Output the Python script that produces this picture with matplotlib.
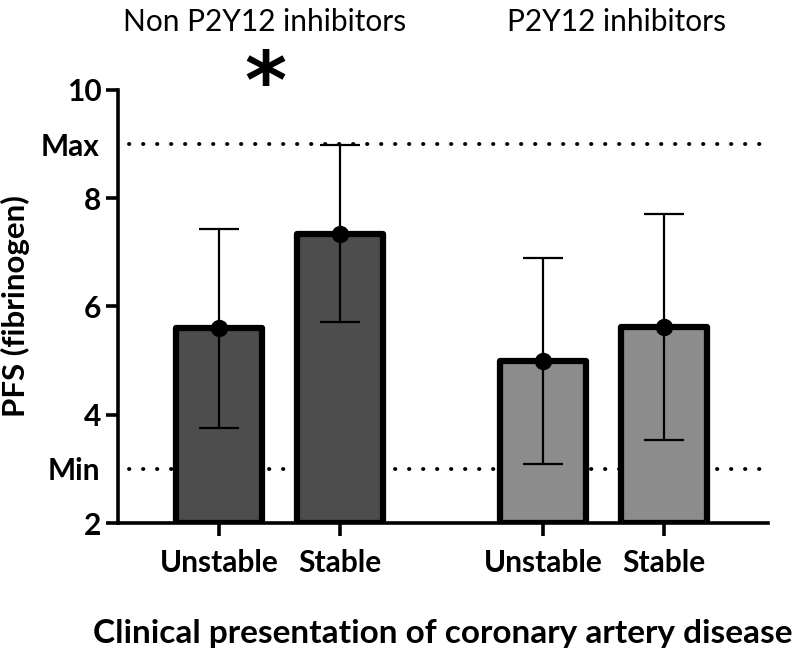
import numpy as np
import matplotlib.pyplot as plt

CATEGORIES = ["Unstable", "Stable", "Unstable", "Stable"]
GROUPS = ["Non P2Y12 inhibitors", "P2Y12 inhibitors"]
MEANS = [5.6, 7.34, 5.0, 5.62]
ERR_LOW = [3.76, 5.72, 3.09, 3.54]
ERR_HIGH = [7.43, 8.98, 6.9, 7.7]
COLORS = ["#4d4d4d", "#4d4d4d", "#8c8c8c", "#8c8c8c"]
POSITIONS = [0, 1, 2.68, 3.68]
MAX_LINE, MIN_LINE = 9, 3

plt.rcParams['font.family'] = ['Lato', 'DejaVu Sans']

fig = plt.figure(figsize=(8, 6.51), dpi=100)
ax = fig.add_axes([0.1475, 0.1966, 0.8125, 0.6652])

ax.set_xlim(-0.835, 4.54)
ax.set_ylim(2, 10)

# reference lines behind the bars
for yv in (MAX_LINE, MIN_LINE):
    ax.plot([-0.74, 4.5], [yv, yv], color="black", lw=2.8,
            linestyle=(0, (0.1, 3.5)), dash_capstyle="round", zorder=1)

ax.bar(POSITIONS, [m - 2 for m in MEANS], bottom=2, width=0.71, color=COLORS,
       edgecolor="black", linewidth=4.5, joinstyle="round", zorder=2)

yerr = np.array([[m - lo for m, lo in zip(MEANS, ERR_LOW)],
                 [hi - m for m, hi in zip(MEANS, ERR_HIGH)]])
ax.errorbar(POSITIONS, MEANS, yerr=yerr, fmt="o", color="black", ms=11.5,
            elinewidth=1.6, capsize=14.5, capthick=1.6, zorder=3)

for s in ("top", "right"):
    ax.spines[s].set_visible(False)
for s in ("left", "bottom"):
    ax.spines[s].set_linewidth(2.6)

ax.set_yticks([2, 4, 6, 8, 10])
ax.set_yticks([3, 9], minor=True)
ax.set_yticklabels(["Min", "Max"], minor=True)
ax.tick_params(axis="y", which="minor", length=0, pad=13, labelsize=21.5)
ax.tick_params(axis="y", which="major", length=9, width=2.6, pad=3, labelsize=21.5)
ax.set_xticks(POSITIONS)
ax.set_xticklabels(CATEGORIES)
ax.tick_params(axis="x", length=9, width=2.6, pad=10, labelsize=21.5)
for lab in ax.get_yticklabels() + ax.get_yticklabels(minor=True) + ax.get_xticklabels():
    lab.set_fontweight("bold")

ax.set_ylabel("PFS (fibrinogen)", fontsize=22.5, fontweight="bold", labelpad=8)
ax.set_xlabel("Clinical presentation of coronary artery disease", fontsize=24,
              fontweight="bold", labelpad=30)

ax.text(0.38, 1.158, GROUPS[0], transform=ax.get_xaxis_transform(),
        ha="center", va="center", fontsize=21.5)
ax.text(3.29, 1.158, GROUPS[1], transform=ax.get_xaxis_transform(),
        ha="center", va="center", fontsize=21.5)
ax.text(0.38, 1.01, "*", transform=ax.get_xaxis_transform(),
        ha="center", va="center", fontsize=58, fontweight="bold",
        family="DejaVu Sans")

fig.savefig("out.png", dpi=100)
